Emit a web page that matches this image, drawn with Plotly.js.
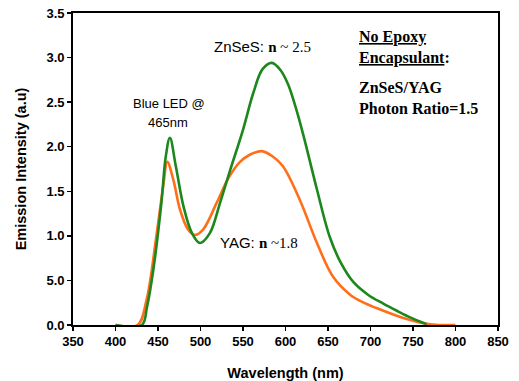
<!DOCTYPE html>
<html>
<head>
<meta charset="utf-8">
<script src="https://cdn.plot.ly/plotly-3.0.1.min.js"></script>
<style>html,body{margin:0;padding:0;background:#fff;}#chart{width:519px;height:381px;}</style>
</head>
<body>
<div id="chart"></div>
<script>
// ZnSeS (n ~ 2.5) spectrum
var znsesWavelength = [400, 431, 437, 444.5, 454, 459, 464, 471, 480, 490, 499.5, 511, 523, 535, 550, 562, 573, 584, 594, 603, 612, 621, 637, 652, 665, 680, 697, 715, 731, 748, 766];
var znsesIntensity  = [0, 0, 0.2, 0.62, 1.37, 1.88, 2.1, 1.78, 1.33, 1.03, 0.92, 1.03, 1.37, 1.74, 2.19, 2.6, 2.87, 2.94, 2.86, 2.70, 2.44, 2.13, 1.52, 0.99, 0.70, 0.48, 0.34, 0.24, 0.16, 0.08, 0.01];
// YAG (n ~ 1.8) spectrum
var yagWavelength = [400, 426, 436.5, 448, 456, 461, 468, 476, 485.5, 493.5, 503, 519, 533, 546.5, 558, 572, 585, 597, 617, 637, 656, 676, 692, 707, 735, 762, 780, 800];
var yagIntensity  = [0, 0, 0.28, 0.99, 1.55, 1.83, 1.63, 1.29, 1.07, 1.01, 1.07, 1.37, 1.65, 1.83, 1.91, 1.95, 1.89, 1.78, 1.40, 0.92, 0.54, 0.34, 0.25, 0.19, 0.09, 0.02, 0, 0];

var xTicks = [350, 400, 450, 500, 550, 600, 650, 700, 750, 800, 850];
var yTicks = [0, 0.5, 1.0, 1.5, 2.0, 2.5, 3.0, 3.5];
var yTickLabels = ["0.0", "5.0", "1.0", "1.5", "2.0", "2.5", "3.0", "3.5"];

var sans = "Liberation Sans, Arial, sans-serif";
var serif = "Liberation Serif, Times New Roman, serif";

var traces = [
  {x: yagWavelength, y: yagIntensity, type: "scatter", mode: "lines",
   line: {color: "#ff6f1a", width: 2.6, shape: "spline", smoothing: 1}, name: "YAG"},
  {x: znsesWavelength, y: znsesIntensity, type: "scatter", mode: "lines",
   line: {color: "#1c871c", width: 2.6, shape: "spline", smoothing: 1}, name: "ZnSeS"}
];

var layout = {
  width: 519, height: 381,
  margin: {l: 73, r: 21, t: 13, b: 56},
  paper_bgcolor: "#fff", plot_bgcolor: "#fff",
  showlegend: false,
  xaxis: {
    range: [350, 850], tickvals: xTicks, ticktext: xTicks.map(String),
    showgrid: false, zeroline: false, showline: true, linecolor: "#000", linewidth: 1.8, mirror: true,
    ticks: "outside", ticklen: 4, tickwidth: 1.5, tickcolor: "#000",
    tickfont: {family: sans, size: 13, color: "#000", weight: "bold"},
    title: {text: "<b>Wavelength (nm)</b>", font: {family: sans, size: 14.5, color: "#000"}, standoff: 19}
  },
  yaxis: {
    range: [0, 3.5], tickvals: yTicks, ticktext: yTickLabels,
    showgrid: false, zeroline: false, showline: true, linecolor: "#000", linewidth: 1.8, mirror: true,
    ticks: "outside", ticklen: 4, tickwidth: 1.5, tickcolor: "#000",
    tickfont: {family: sans, size: 13, color: "#000", weight: "bold"},
    title: {text: "<b>Emission Intensity (a.u)</b>", font: {family: sans, size: 14.5, color: "#000"}, standoff: 16}
  },
  annotations: [
    {x: 573.5, y: 3.12, xref: "x", yref: "y", showarrow: false,
     text: "ZnSeS: <span style=\"font-family:Liberation Serif\"><b>n</b> ~ 2.5</span>",
     font: {family: sans, size: 15, color: "#000"}},
    {x: 520, y: 0.92, xref: "x", yref: "y", showarrow: false, xanchor: "left",
     text: "YAG: <span style=\"font-family:Liberation Serif\"><b>n</b> ~1.8</span>",
     font: {family: sans, size: 15, color: "#000"}},
    {x: 463, y: 2.48, xref: "x", yref: "y", showarrow: false,
     text: "Blue LED @", font: {family: sans, size: 13, color: "#000"}},
    {x: 462, y: 2.27, xref: "x", yref: "y", showarrow: false,
     text: "465nm", font: {family: sans, size: 13, color: "#000"}},
    {x: 684, y: 3.23, xref: "x", yref: "y", showarrow: false, xanchor: "left",
     text: "<b><u>No Epoxy</u></b>", font: {family: serif, size: 16, color: "#000"}},
    {x: 684, y: 3.0, xref: "x", yref: "y", showarrow: false, xanchor: "left",
     text: "<b><u>Encapsulant</u>:</b>", font: {family: serif, size: 16, color: "#000"}},
    {x: 684, y: 2.66, xref: "x", yref: "y", showarrow: false, xanchor: "left",
     text: "<b>ZnSeS/YAG</b>", font: {family: serif, size: 16, color: "#000"}},
    {x: 684, y: 2.43, xref: "x", yref: "y", showarrow: false, xanchor: "left",
     text: "<b>Photon Ratio=1.5</b>", font: {family: serif, size: 16, color: "#000"}}
  ]
};

Plotly.newPlot("chart", traces, layout, {displayModeBar: false, staticPlot: true});
</script>
</body>
</html>
